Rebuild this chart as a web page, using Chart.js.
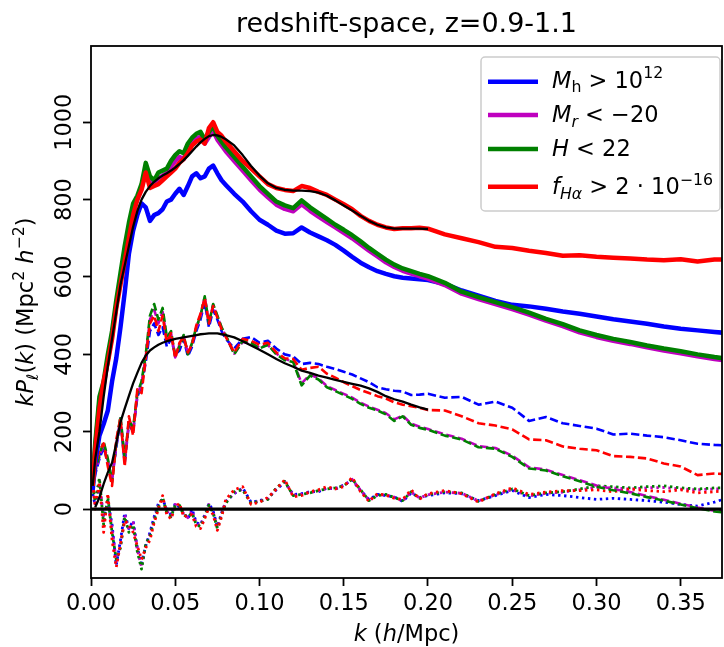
<!DOCTYPE html>
<html>
<head>
<meta charset="utf-8">
<script src="https://cdn.jsdelivr.net/npm/chart.js@4.4.1/dist/chart.umd.min.js"></script>
<style>
  html, body { margin: 0; padding: 0; background: #fff; }
  #plot { display: block; }
</style>
</head>
<body>
<canvas id="plot" width="724" height="647"></canvas>
<script>
/**
 * Multipoles kP_l(k) of four galaxy samples, redshift space z=0.9-1.1
 */

// k grid shared by the measured curves (h/Mpc)
const kGrid = [0.001, 0.0025, 0.005, 0.0075, 0.01, 0.0125, 0.015, 0.0175, 0.02, 0.0225,
    0.025, 0.0275, 0.03, 0.0325, 0.035, 0.0375, 0.04, 0.0425, 0.045, 0.0475,
    0.05, 0.0525, 0.055, 0.0575, 0.06, 0.0625, 0.065, 0.0675, 0.07, 0.0725,
    0.075, 0.0775, 0.08,
    0.085, 0.09, 0.095, 0.1, 0.105, 0.11, 0.115, 0.12, 0.125, 0.13,
    0.135, 0.14, 0.145, 0.15, 0.155, 0.16, 0.165, 0.17, 0.175, 0.18,
    0.185, 0.19, 0.195, 0.2,
    0.21, 0.22, 0.23, 0.24, 0.25, 0.26, 0.27, 0.28, 0.29, 0.3,
    0.31, 0.32, 0.33, 0.34, 0.35, 0.36, 0.37, 0.375];
// the black model curves stop at k = 0.2
const kModel = kGrid.filter(k => k <= 0.2);
const zeroK = [0, 0.375];
const zeroV = [0, 0];

// monopole (solid)
const monoBlue = [50, 120, 190, 220, 255, 330, 390, 470, 560, 660, 720, 760, 790, 780, 745, 760, 765, 775, 795, 800, 815, 828, 812, 835, 860, 868, 855, 860, 880, 888, 868, 850, 838,
    815, 795, 770, 748, 735, 720, 712, 713, 728, 715, 705, 695, 683, 668, 652, 637, 625, 615, 608, 602, 598, 596, 594, 592,
    582, 565, 552, 538, 528, 524, 518, 511, 505, 498, 491, 485, 479, 472, 466, 462, 458, 456];
const monoMagenta = [65, 160, 275, 320, 385, 450, 525, 595, 665, 725, 775, 800, 830, 875, 845, 838, 855, 862, 868, 885, 900, 910, 905, 932, 948, 958, 962, 945, 962, 978, 955, 940, 925,
    900, 875, 850, 826, 806, 787, 776, 770, 788, 771, 756, 742, 728, 714, 700, 684, 668, 653, 638, 626, 616, 609, 602, 596,
    579, 557, 543, 530, 517, 503, 487, 473, 457, 445, 435, 427, 418, 410, 403, 395, 388, 385];
const monoGreen = [70, 170, 290, 330, 400, 460, 540, 610, 680, 740, 790, 810, 840, 895, 860, 850, 870, 875, 880, 900, 915, 925, 920, 945, 960, 970, 975, 955, 975, 990, 965, 950, 935,
    910, 885, 860, 835, 815, 795, 785, 778, 798, 780, 765, 750, 735, 722, 708, 692, 675, 660, 645, 632, 622, 615, 608, 602,
    585, 562, 548, 535, 522, 508, 492, 478, 462, 450, 440, 432, 423, 415, 408, 400, 393, 390];
const monoRed = [60, 150, 260, 330, 380, 440, 520, 580, 640, 700, 760, 800, 825, 870, 830, 835, 840, 850, 860, 870, 880, 895, 905, 920, 940, 950, 955, 945, 985, 1000, 975, 965, 950,
    925, 900, 880, 860, 840, 830, 825, 822, 835, 830, 820, 812, 800, 788, 775, 758, 745, 735, 728, 724, 726, 726, 727, 725,
    710, 700, 690, 678, 675, 668, 662, 655, 656, 652, 650, 648, 645, 643, 646, 640, 645, 645];

// quadrupole (dashed)
const quadBlue = [50, 90, 130, 160, 120, 80, 160, 230, 120, 220, 200, 290, 320, 380, 460, 480, 450, 470, 420, 440, 400, 410, 440, 395, 420, 460, 490, 535, 470, 515, 490, 460, 440,
    415, 440, 445, 430, 435, 415, 400, 395, 375, 378, 375, 368, 362, 355, 348, 338, 328, 315, 310, 306, 304, 295, 296, 298,
    288, 290, 270, 278, 262, 228, 238, 222, 215, 208, 193, 195, 190, 186, 178, 169, 166, 165];
const quadMagenta = [55, 95, 135, 170, 125, 75, 165, 235, 125, 225, 205, 295, 325, 395, 490, 515, 480, 510, 440, 455, 392, 425, 448, 402, 428, 468, 498, 548, 482, 528, 498, 468, 448,
    402, 432, 428, 418, 424, 402, 388, 382, 325, 348, 338, 318, 308, 298, 288, 275, 265, 257, 248, 232, 242, 221, 213, 207,
    193, 182, 163, 158, 138, 108, 102, 88, 75, 61, 52, 44, 34, 24, 14, 4, -4, -6];
const quadGreen = [60, 100, 140, 175, 130, 70, 170, 240, 130, 230, 210, 300, 330, 400, 500, 530, 490, 520, 445, 460, 395, 420, 450, 400, 430, 470, 500, 550, 480, 530, 500, 470, 450,
    400, 435, 430, 415, 425, 400, 385, 380, 320, 345, 335, 315, 305, 295, 285, 272, 262, 255, 245, 228, 240, 218, 210, 205,
    190, 180, 160, 156, 135, 105, 100, 85, 72, 58, 49, 41, 31, 22, 12, 2, -6, -8];
const quadRed = [70, 110, 150, 170, 110, 60, 180, 235, 110, 240, 190, 310, 300, 390, 480, 500, 460, 500, 430, 455, 390, 430, 445, 405, 425, 475, 505, 545, 480, 525, 495, 465, 445,
    405, 440, 435, 425, 430, 405, 390, 388, 360, 365, 368, 350, 340, 328, 318, 308, 300, 292, 286, 276, 270, 266, 262, 256,
    255, 240, 222, 216, 206, 180, 178, 162, 156, 152, 137, 135, 131, 118, 110, 88, 92, 91];

// hexadecapole (dotted)
const hexBlue = [40, 10, 60, -20, 20, -40, -145, -80, -10, -50, -30, -100, -140, -95, -60, -20, 15, 25, 0, -15, 15, 5, -10, -25, 0, -35, -40, -15, 15, -5, -45, -10, 20,
    40, 55, 18, 22, 28, 50, 70, 38, 40, 45, 45, 55, 52, 62, 75, 48, 25, 38, 35, 32, 20, 42, 30, 35,
    42, 40, 22, 35, 48, 30, 38, 35, 30, 25, 28, 25, 22, 18, 12, 8, 18, 25];
const hexMagenta = [50, 15, 75, -30, 25, -50, -135, -95, -15, -55, -35, -105, -150, -92, -65, -25, 8, 28, -5, -18, 12, 8, -12, -22, -5, -38, -42, -18, 12, -8, -48, -12, 18,
    42, 52, 16, 20, 26, 54, 71, 36, 39, 43, 47, 53, 54, 61, 77, 49, 23, 36, 37, 31, 21, 44, 29, 37,
    44, 41, 21, 37, 50, 34, 41, 44, 50, 56, 55, 52, 55, 56, 52, 50, 52, 52];
const hexGreen = [60, 20, 80, -40, 30, -60, -130, -100, -20, -60, -40, -110, -155, -90, -70, -30, 5, 30, -10, -20, 10, 10, -15, -20, -10, -40, -45, -20, 10, -10, -50, -15, 15,
    45, 50, 15, 20, 25, 55, 72, 35, 38, 42, 48, 52, 55, 60, 78, 50, 22, 35, 38, 30, 22, 45, 28, 38,
    45, 42, 20, 38, 52, 35, 42, 45, 52, 60, 58, 55, 58, 60, 55, 52, 55, 55];
const hexRed = [80, 0, 70, -60, 40, -80, -150, -90, -30, -40, -60, -95, -130, -100, -80, -35, 0, 35, -15, -25, 5, 15, -20, -15, -15, -45, -50, -25, 5, -15, -55, -20, 25,
    50, 58, 12, 18, 30, 52, 76, 32, 35, 45, 50, 58, 52, 58, 82, 45, 20, 40, 36, 28, 25, 50, 26, 40,
    48, 40, 18, 40, 55, 38, 44, 48, 48, 50, 45, 52, 48, 45, 50, 42, 45, 47];

// model curves (black)
const modelMono = [60, 130, 200, 290, 370, 440, 510, 580, 630, 680, 730, 770, 800, 820, 835, 846, 855, 862, 868, 875, 883, 892, 902, 913, 925, 937, 948, 957, 964, 967, 966, 962, 956,
    940, 915, 887, 862, 842, 830, 825, 823, 823, 822, 818, 810, 798, 785, 772, 758, 745, 735, 728, 725, 725, 725, 725, 724];
const modelQuad = [null, 5, 30, 65, 95, 120, 170, 225, 260, 293, 325, 352, 378, 397, 410, 418, 425, 430, 434, 437, 440, 442, 444, 446, 448, 450, 452, 453, 454, 454, 454, 452, 450,
    444, 434, 423, 412, 400, 388, 377, 368, 358, 352, 345, 340, 334, 329, 324, 319, 312, 303, 292, 284, 278, 270, 263, 257];

// axes
const kRange = [0, 0.3745];
const yRange = [-178, 1197];
const kTicks = [0, 0.05, 0.1, 0.15, 0.2, 0.25, 0.3, 0.35];
const yTicks = [0, 200, 400, 600, 800, 1000];

const titleText = 'redshift-space, z=0.9-1.1';

const samples = [
    { color: '#0000ff', mono: monoBlue, quad: quadBlue, hexa: hexBlue },
    { color: '#bf00bf', mono: monoMagenta, quad: quadMagenta, hexa: hexMagenta },
    { color: '#008000', mono: monoGreen, quad: quadGreen, hexa: hexGreen },
    { color: '#ff0000', mono: monoRed, quad: quadRed, hexa: hexRed }
];

const FONT = '"DejaVu Sans", sans-serif';
const SUB = 0.7;

// legend labels, mathtext split into runs
const legendLabels = [
    [{ t: 'M', it: true }, { t: 'h', s: SUB, dy: 0.22 }, { t: ' > 10' }, { t: '12', s: SUB, dy: -0.42 }],
    [{ t: 'M', it: true }, { t: 'r', it: true, s: SUB, dy: 0.22 }, { t: ' < \u221220' }],
    [{ t: 'H', it: true }, { t: ' < 22' }],
    [{ t: 'f', it: true }, { t: 'H\u03b1', it: true, s: SUB, dy: 0.22 }, { t: ' > 2 \u00b7 10' }, { t: '\u221216', s: SUB, dy: -0.42 }]
];
const yLabel = [{ t: 'kP', it: true }, { t: '\u2113', it: true, s: SUB, dy: 0.22 }, { t: '(' }, { t: 'k', it: true }, { t: ') (Mpc' },
    { t: '2', s: SUB, dy: -0.42 }, { t: ' ' }, { t: 'h', it: true }, { t: '\u22122', s: SUB, dy: -0.42 }, { t: ')' }];
const xLabel = [{ t: 'k', it: true }, { t: ' (' }, { t: 'h', it: true }, { t: '/Mpc)' }];

const fontFor = (run, size) => (run.it ? 'italic ' : '') + (size * (run.s || 1)) + 'px ' + FONT;

function drawRuns(ctx, runs, x, y, size, align) {
    let total = 0;
    runs.forEach(r => { ctx.font = fontFor(r, size); total += ctx.measureText(r.t).width; });
    let cx = align === 'center' ? x - total / 2 : x;
    ctx.textAlign = 'left';
    ctx.textBaseline = 'alphabetic';
    runs.forEach(r => {
        ctx.font = fontFor(r, size);
        ctx.fillText(r.t, cx, y + (r.dy || 0) * size);
        cx += ctx.measureText(r.t).width;
    });
}

const toPoints = (ks, vs) => vs.map((v, i) => ({ x: ks[i], y: v }));

const datasets = [];
samples.forEach((s, i) => {
    datasets.push({ data: toPoints(kGrid, s.hexa), borderColor: s.color, borderWidth: 2.8, borderDash: [2.4, 3.6], order: 30 - i });
    datasets.push({ data: toPoints(kGrid, s.quad), borderColor: s.color, borderWidth: 2.6, borderDash: [8.3, 3.6], order: 20 - i });
    datasets.push({ data: toPoints(kGrid, s.mono), borderColor: s.color, borderWidth: 4.5, order: 10 - i });
});
datasets.push({ data: toPoints(kModel, modelMono), borderColor: '#000', borderWidth: 2.3, order: 2 });
datasets.push({ data: toPoints(kModel, modelQuad), borderColor: '#000', borderWidth: 2.3, order: 2 });
datasets.push({ data: toPoints(zeroK, zeroV), borderColor: '#000', borderWidth: 3.4, order: 1 });

const decorations = {
    id: 'decorations',
    afterDraw(chart) {
        const { ctx, chartArea: a, scales } = chart;
        const midX = (a.left + a.right) / 2;
        const midY = (a.top + a.bottom) / 2;
        ctx.save();
        ctx.fillStyle = '#000';

        // axes frame
        ctx.strokeStyle = '#000';
        ctx.lineWidth = 1.8;
        ctx.strokeRect(a.left, a.top, a.right - a.left, a.bottom - a.top);

        // title
        drawRuns(ctx, [{ t: titleText }], midX, 32, 27, 'center');

        // y tick labels, rotated like the original
        scales.y.ticks.forEach(t => {
            const py = scales.y.getPixelForValue(t.value);
            ctx.save();
            ctx.translate(a.left - 20, py);
            ctx.rotate(-Math.PI / 2);
            drawRuns(ctx, [{ t: String(t.value) }], 0, 0, 22.5, 'center');
            ctx.restore();
        });

        // axis titles
        ctx.save();
        ctx.translate(33, midY);
        ctx.rotate(-Math.PI / 2);
        drawRuns(ctx, yLabel, 0, 0, 22.5, 'center');
        ctx.restore();
        drawRuns(ctx, xLabel, midX, 641, 22.5, 'center');

        // legend
        const box = { x: 481, y: 57, w: 239, h: 154 };
        ctx.beginPath();
        ctx.roundRect(box.x, box.y, box.w, box.h, 4);
        ctx.fillStyle = 'rgba(255,255,255,0.8)';
        ctx.fill();
        ctx.strokeStyle = '#cccccc';
        ctx.lineWidth = 1.5;
        ctx.stroke();
        const rowY = [81.7, 115, 149, 186.7];
        const baseY = [87.5, 121.7, 156, 194];
        samples.forEach((s, i) => {
            ctx.beginPath();
            ctx.moveTo(488, rowY[i]);
            ctx.lineTo(538, rowY[i]);
            ctx.strokeStyle = s.color;
            ctx.lineWidth = 4.5;
            ctx.stroke();
            ctx.fillStyle = '#000';
            drawRuns(ctx, legendLabels[i], 552, baseY[i], 22.5, 'left');
        });
        ctx.restore();
    }
};

const tickMarks = { display: true, drawOnChartArea: false, drawTicks: true, tickLength: 8, tickWidth: 1.8, tickColor: '#000' };

new Chart(document.getElementById('plot'), {
    type: 'line',
    data: { datasets },
    options: {
        responsive: false,
        animation: false,
        devicePixelRatio: 1,
        layout: { padding: { top: 46, right: 2, left: 0, bottom: 0 } },
        elements: {
            point: { radius: 0 },
            line: { tension: 0, fill: false, borderJoinStyle: 'round', borderCapStyle: 'butt' }
        },
        plugins: { legend: { display: false }, tooltip: { enabled: false }, title: { display: false } },
        scales: {
            x: {
                type: 'linear',
                min: kRange[0],
                max: kRange[1],
                border: { display: false },
                grid: tickMarks,
                afterBuildTicks: scale => { scale.ticks = kTicks.map(v => ({ value: v })); },
                ticks: {
                    autoSkip: false, maxRotation: 0,
                    color: '#000', padding: 5, font: { family: 'DejaVu Sans', size: 22.5 },
                    callback: v => Number(v).toFixed(2)
                },
                afterFit: scale => { scale.height = 69; }
            },
            y: {
                type: 'linear',
                min: yRange[0],
                max: yRange[1],
                border: { display: false },
                grid: tickMarks,
                afterBuildTicks: scale => { scale.ticks = yTicks.map(v => ({ value: v })); },
                ticks: { display: false },
                afterFit: scale => { scale.width = 91; }
            }
        }
    },
    plugins: [decorations]
});
</script>
</body>
</html>
